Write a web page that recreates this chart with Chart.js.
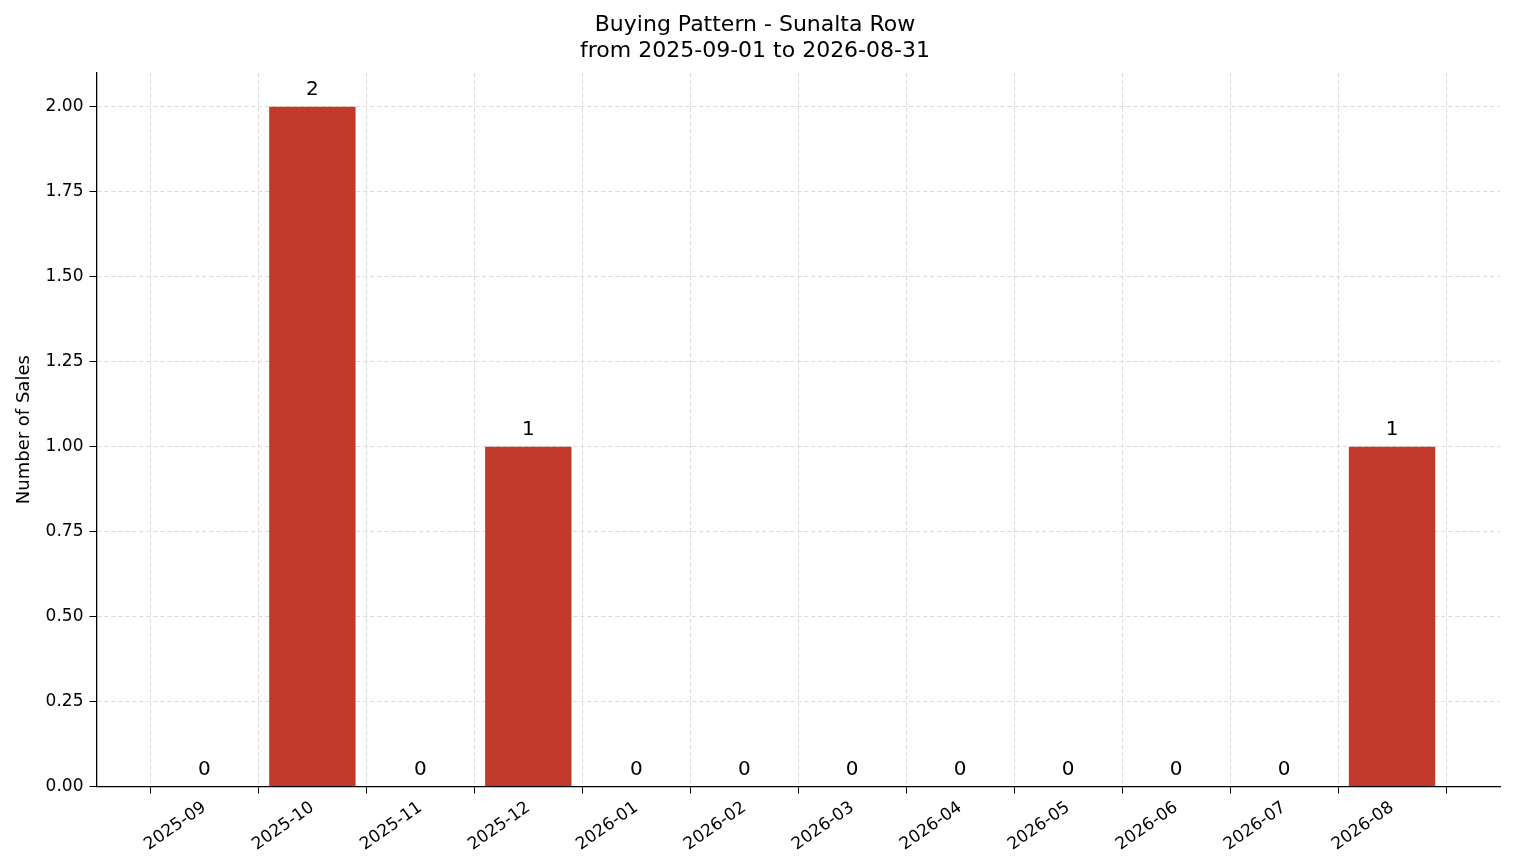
<!DOCTYPE html>
<html><head><meta charset="utf-8">
<script src="https://cdn.jsdelivr.net/npm/chart.js@4"></script>
<style>html,body{margin:0;background:#fff}#w{width:1514px;height:863px}</style>
</head><body><div id="w"><canvas id="c"></canvas></div>
<script>
const months=["2025-09","2025-10","2025-11","2025-12","2026-01","2026-02","2026-03","2026-04","2026-05","2026-06","2026-07","2026-08"];
const sales=[0,2,0,1,0,0,0,0,0,0,0,1];
const yTicks=[0,0.25,0.5,0.75,1,1.25,1.5,1.75,2];
Chart.defaults.font.family="DejaVu Sans";
Chart.defaults.color="#000";
const labelPlugin={id:'lbl',afterDatasetsDraw(ch){const ctx=ch.ctx;const m=ch.getDatasetMeta(0);ctx.save();ctx.font='20px DejaVu Sans';ctx.fillStyle='#000';ctx.textAlign='center';ctx.textBaseline='bottom';m.data.forEach((b,i)=>{ctx.fillText(String(sales[i]),b.x,b.y-7);});ctx.restore();}};
new Chart(document.getElementById('c'),{type:'bar',
data:{datasets:[{data:sales.map((v,i)=>({x:i,y:v})),backgroundColor:'#c0392b',barPercentage:0.8,categoryPercentage:1}]},
options:{responsive:true,maintainAspectRatio:false,animation:false,
layout:{padding:{left:10,right:14,top:8,bottom:4}},
plugins:{legend:{display:false},tooltip:{enabled:false},
title:{display:true,text:['Buying Pattern - Sunalta Row','from 2025-09-01 to 2026-08-31'],font:{size:22,weight:'normal'},padding:{top:4,bottom:8},lineHeight:1.2}},
scales:{
x:{type:'linear',min:-1,max:12,offset:false,afterBuildTicks(a){a.ticks=months.map((m,i)=>({value:i}));},
ticks:{callback:(v)=>months[v]??'',maxRotation:35,minRotation:35,font:{size:17},padding:4},
grid:{color:'#d9d9d9',tickColor:'#000',tickLength:7,drawOnChartArea:true},border:{color:'#000',width:1.3,dash:[4,3]}},
y:{min:0,max:2.1,afterBuildTicks(a){a.ticks=yTicks.map(v=>({value:v}));},
ticks:{callback:(v)=>v.toFixed(2),font:{size:17},padding:6},
title:{display:true,text:'Number of Sales',font:{size:18}},
grid:{color:'#d9d9d9',tickColor:'#000',tickLength:7},border:{color:'#000',width:1.3,dash:[4,3]}}
}},plugins:[labelPlugin]});
</script></body></html>
